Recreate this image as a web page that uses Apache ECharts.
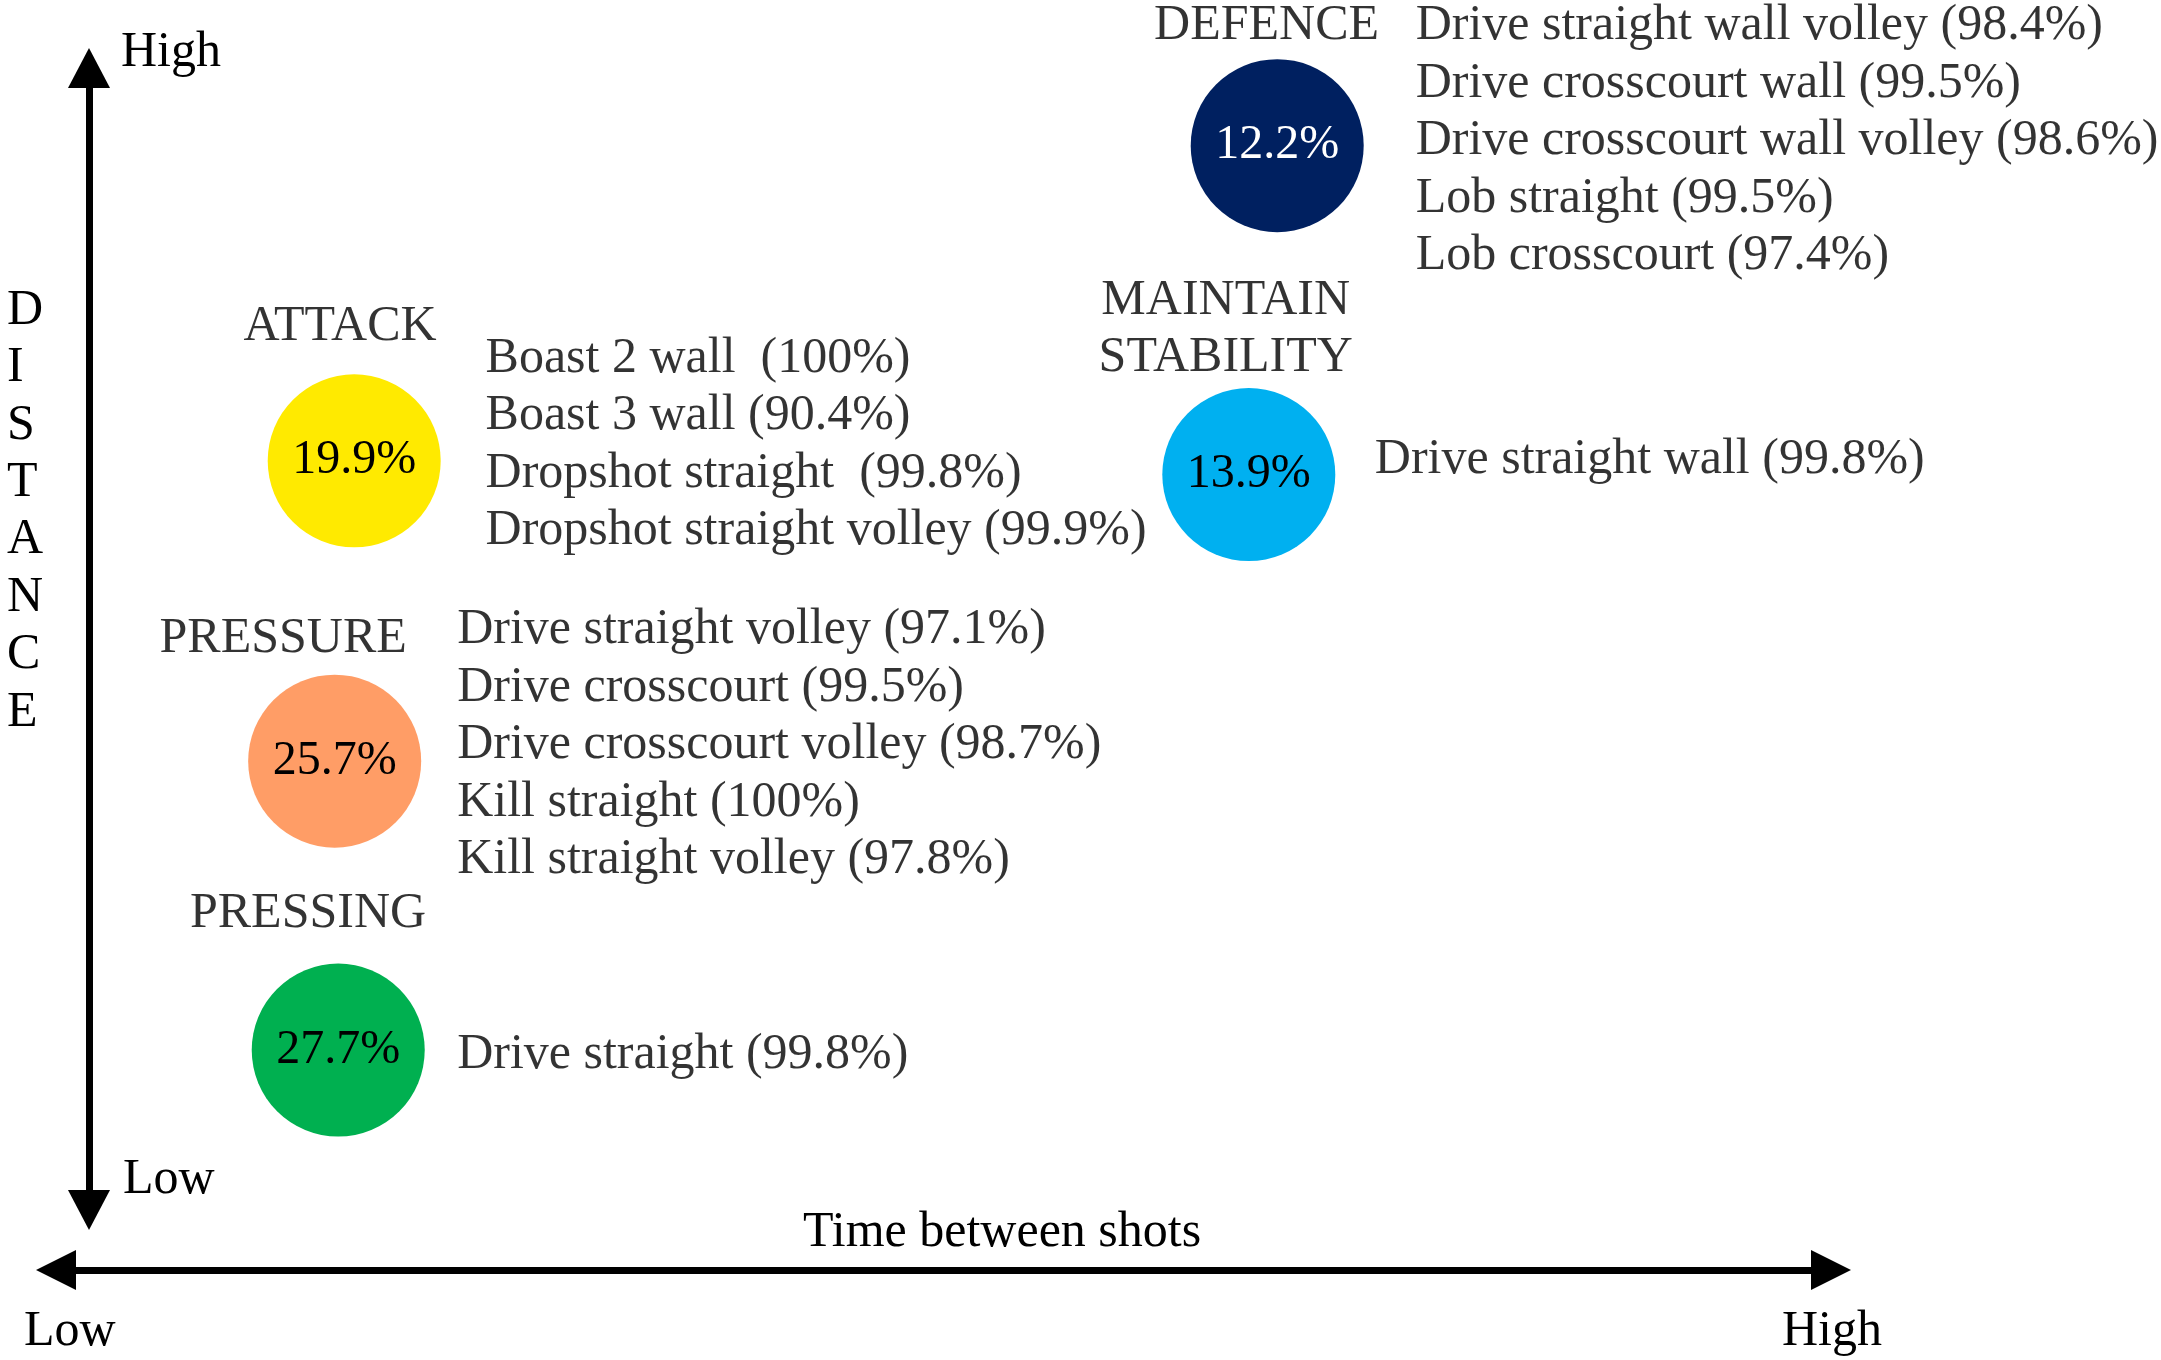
<!DOCTYPE html>
<html>
<head>
<meta charset="utf-8">
<script src="https://cdn.jsdelivr.net/npm/echarts@6/dist/echarts.min.js"></script>
<style>
html,body{margin:0;padding:0;background:#fff;}
#chart{width:2161px;height:1360px;}
</style>
</head>
<body>
<div id="chart"></div>
<script>
// Categories (shot types) and their share of shots
const categories = ['PRESSING', 'PRESSURE', 'ATTACK', 'MAINTAIN\nSTABILITY', 'DEFENCE'];
const shares = [27.7, 25.7, 19.9, 13.9, 12.2];
// Position of each circle: time between shots (x, 0-100) and distance (y, 0-100)
const timeValues = [15.9, 15.7, 16.8, 67.2, 68.8];
const distanceValues = [14.0, 39.3, 65.6, 64.4, 93.2];
// Category title positions
const titleTime = [14.2, 12.8, 16.0, 65.9, 68.2];
const titleDistance = [25.9, 50.0, 77.3, 77.1, 103.7];
// Shot lists (with success %)
const shotLists = [
  ['Drive straight (99.8%)'],
  ['Drive straight volley (97.1%)', 'Drive crosscourt (99.5%)', 'Drive crosscourt volley (98.7%)', 'Kill straight (100%)', 'Kill straight volley (97.8%)'],
  ['Boast 2 wall  (100%)', 'Boast 3 wall (90.4%)', 'Dropshot straight  (99.8%)', 'Dropshot straight volley (99.9%)'],
  ['Drive straight wall (99.8%)'],
  ['Drive straight wall volley (98.4%)', 'Drive crosscourt wall (99.5%)', 'Drive crosscourt wall volley (98.6%)', 'Lob straight (99.5%)', 'Lob crosscourt (97.4%)']
];
const listTime = [22.6, 22.6, 24.2, 74.3, 76.6];
const listDistance = [13.6, 40.7, 67.0, 65.7, 93.6];
// Axis captions
const xAxisTitle = 'Time between shots';
const yAxisTitle = 'DISTANCE';
const lowLabel = 'Low';
const highLabel = 'High';

const colors = ['#00B050', '#FF9D66', '#FFEA00', '#00B0F0', '#002060'];
const pctColors = ['#000', '#000', '#000', '#000', '#fff'];

const FONT = '"Liberation Serif", "Times New Roman", serif';
const FS = 50;

const chart = echarts.init(document.getElementById('chart'), null, {renderer: 'canvas'});

const circleData = categories.map((c, i) => ({
  value: [timeValues[i], distanceValues[i], shares[i]],
  itemStyle: {color: colors[i], opacity: 1},
  label: {color: pctColors[i]}
}));
const titleData = categories.map((c, i) => ({value: [titleTime[i], titleDistance[i]], name: c}));
const listData = shotLists.map((l, i) => ({value: [listTime[i], listDistance[i]], name: l.join('\n')}));

const txt = (style) => Object.assign({fontFamily: FONT, fontSize: FS, fill: '#000'}, style);

chart.setOption({
  animation: false,
  backgroundColor: '#fff',
  grid: {left: 56, top: 68, width: 1775, height: 1142, containLabel: false, outerBoundsMode: 'none'},
  xAxis: {
    type: 'value', min: 0, max: 100, position: 'bottom', offset: 60,
    splitLine: {show: false}, axisTick: {show: false}, axisLabel: {show: false},
    axisLine: {show: true, onZero: false, lineStyle: {color: '#000', width: 7},
      symbol: ['triangle', 'triangle'], symbolSize: [40, 40]}
  },
  yAxis: {
    type: 'value', min: 0, max: 100, position: 'left', offset: -33,
    splitLine: {show: false}, axisTick: {show: false}, axisLabel: {show: false},
    axisLine: {show: true, onZero: false, lineStyle: {color: '#000', width: 7},
      symbol: ['triangle', 'triangle'], symbolSize: [42, 40]}
  },
  series: [
    {
      type: 'scatter', clip: false, symbol: 'circle', symbolSize: 173,
      itemStyle: {opacity: 1},
      emphasis: {disabled: true},
      data: circleData,
      label: {show: true, position: 'inside', fontFamily: FONT, fontSize: 48,
        formatter: p => p.value[2].toFixed(1) + '%'}
    },
    {
      type: 'scatter', clip: false, symbolSize: 0, data: titleData,
      label: {show: true, position: 'inside', align: 'center', fontFamily: FONT, fontSize: FS,
        color: '#000', lineHeight: 57, formatter: p => p.name}
    },
    {
      type: 'scatter', clip: false, symbolSize: 0, data: listData,
      label: {show: true, position: 'right', distance: 0, align: 'left', fontFamily: FONT, fontSize: FS,
        color: '#000', lineHeight: 57.5, formatter: p => p.name}
    }
  ],
  graphic: [
    {type: 'text', left: 121, top: 28, style: txt({text: highLabel})},
    {type: 'text', left: 123, top: 1155, style: txt({text: lowLabel})},
    {type: 'text', left: 7, top: 282, style: txt({text: yAxisTitle.split('').join('\n'), lineHeight: 57.4, align: 'center', width: 44})},
    {type: 'text', left: 803, top: 1208, style: txt({text: xAxisTitle})},
    {type: 'text', left: 24, top: 1307, style: txt({text: lowLabel})},
    {type: 'text', left: 1782, top: 1307, style: txt({text: highLabel})}
  ]
});
</script>
</body>
</html>
